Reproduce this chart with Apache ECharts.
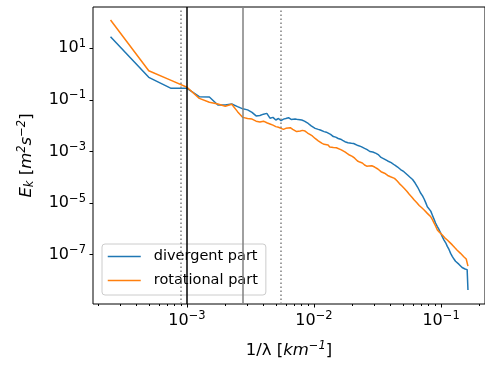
<!DOCTYPE html>
<html><head><meta charset="utf-8">
<script src="https://cdn.jsdelivr.net/npm/echarts@6/dist/echarts.min.js"></script>
<style>html,body{margin:0;padding:0;background:#fff}#c{width:485px;height:365px}</style>
</head><body><div id="c"></div>
<script>
// [1/lambda (km^-1), E_k (m^2 s^-2)]
const divergent = [
 [2.5e-4,28],[5e-4,0.75],[7.5e-4,0.28],[1e-3,0.28],[1.25e-3,0.133],[1.5e-3,0.13],[1.75e-3,0.063],[2e-3,0.063],
 [2.25e-3,0.069],[2.5e-3,0.055],[2.75e-3,0.045],[3e-3,0.041],[3.25e-3,0.033],[3.5e-3,0.024],[3.75e-3,0.025],[4e-3,0.028],
 [4.25e-3,0.030],[4.5e-3,0.0195],[4.75e-3,0.021],[5e-3,0.0166],[5.25e-3,0.019],[5.5e-3,0.0158],[5.75e-3,0.018],[6e-3,0.019],
 [6.3e-3,0.0204],[6.6e-3,0.0175],[6.8e-3,0.0195],[7.1e-3,0.0182],[7.5e-3,0.0172],[7.7e-3,0.019],[8.0e-3,0.0166],[8.4e-3,0.0150],
 [8.7e-3,0.0140],[9.0e-3,0.0122],[9.5e-3,0.0098],[1.02e-2,0.0079],[1.08e-2,0.0072],[1.12e-2,0.0068],[1.15e-2,0.0062],[1.2e-2,0.0059],
 [1.25e-2,0.0056],[1.29e-2,0.0051],[1.35e-2,0.0046],[1.42e-2,0.0038],[1.48e-2,0.0036],[1.55e-2,0.0032],[1.62e-2,0.0030],[1.68e-2,0.0027],
 [1.75e-2,0.0024],[1.85e-2,0.0022],[1.97e-2,0.0021],[2.05e-2,0.00205],[2.12e-2,0.0018],[2.22e-2,0.0017],[2.35e-2,0.00155],[2.5e-2,0.00132],
 [2.62e-2,0.00118],[2.75e-2,0.0010],[2.9e-2,9.6e-4],[3.08e-2,8.5e-4],[3.2e-2,7.6e-4],[3.37e-2,5.9e-4],[3.55e-2,5.2e-4],[3.8e-2,4.3e-4],
 [4.05e-2,3.7e-4],[4.3e-2,3.0e-4],[4.55e-2,2.5e-4],[4.8e-2,2.0e-4],[5.1e-2,1.65e-4],[5.45e-2,1.23e-4],[5.7e-2,1.0e-4],[5.97e-2,8.2e-5],
 [6.25e-2,6.0e-5],[6.53e-2,4.2e-5],[6.7e-2,3.3e-5],[6.92e-2,2.4e-5],[7.15e-2,1.9e-5],[7.36e-2,1.44e-5],[7.6e-2,1.0e-5],[7.8e-2,7.2e-6],
 [8.05e-2,6.3e-6],[8.3e-2,4.9e-6],[8.55e-2,3.4e-6],[8.8e-2,2.4e-6],[9.05e-2,1.7e-6],[9.35e-2,1.23e-6],[9.65e-2,9.3e-7],[9.93e-2,6.9e-7],
 [0.102,5.1e-7],[0.1055,3.7e-7],[0.1088,2.9e-7],[0.112,2.1e-7],[0.1155,1.6e-7],[0.119,1.13e-7],[0.1225,8.6e-8],[0.1264,6.8e-8],
 [0.130,5.6e-8],[0.134,4.7e-8],[0.138,4.3e-8],[0.1423,3.8e-8],[0.1465,3.2e-8],[0.151,2.95e-8],[0.1545,2.8e-8],[0.1578,2.7e-8],
 [0.1605,2.65e-8],[0.1626,2.6e-8],[0.1629,4.3e-9]
];
const rotational = [
 [2.5e-4,125],[5e-4,1.35],[7.5e-4,0.57],[1e-3,0.31],[1.25e-3,0.115],[1.5e-3,0.081],[1.75e-3,0.069],[2e-3,0.057],
 [2.25e-3,0.068],[2.5e-3,0.035],[2.75e-3,0.021],[3e-3,0.019],[3.25e-3,0.018],[3.5e-3,0.015],[3.75e-3,0.014],[4e-3,0.015],
 [4.25e-3,0.013],[4.5e-3,0.0117],[4.75e-3,0.0105],[5e-3,0.0092],[5.25e-3,0.0087],[5.5e-3,0.0079],[5.75e-3,0.0072],[6e-3,0.0079],
 [6.5e-3,0.0084],[6.8e-3,0.0072],[7.0e-3,0.0066],[7.3e-3,0.0059],[7.8e-3,0.0062],[8.1e-3,0.0066],[8.5e-3,0.0062],[8.9e-3,0.0052],
 [9.27e-3,0.0046],[9.7e-3,0.0040],[1.02e-2,0.0032],[1.08e-2,0.0026],[1.11e-2,0.0025],[1.15e-2,0.0021],[1.2e-2,0.0019],[1.225e-2,0.0017],
 [1.29e-2,0.0018],[1.33e-2,0.0015],[1.375e-2,0.00132],[1.42e-2,0.00142],[1.46e-2,0.00132],[1.5e-2,0.0014],[1.55e-2,0.00155],[1.64e-2,0.00115],
 [1.7e-2,0.00105],[1.75e-2,9.6e-4],[1.82e-2,8.4e-4],[1.9e-2,7.3e-4],[2.0e-2,6.5e-4],[2.09e-2,5.5e-4],[2.2e-2,4.3e-4],[2.29e-2,3.9e-4],
 [2.4e-2,3.6e-4],[2.5e-2,3.0e-4],[2.6e-2,2.7e-4],[2.7e-2,2.75e-4],[2.85e-2,2.8e-4],[3.0e-2,2.5e-4],[3.1e-2,2.25e-4],[3.18e-2,2.1e-4],
 [3.28e-2,1.85e-4],[3.37e-2,1.65e-4],[3.48e-2,1.5e-4],[3.59e-2,1.44e-4],[3.7e-2,1.3e-4],[3.8e-2,1.18e-4],[4.0e-2,1.05e-4],[4.3e-2,9.1e-5],
 [4.5e-2,7.3e-5],[4.7e-2,5.7e-5],[4.92e-2,4.6e-5],[5.14e-2,3.7e-5],[5.38e-2,2.9e-5],[5.62e-2,2.2e-5],[5.9e-2,1.7e-5],[6.15e-2,1.32e-5],
 [6.45e-2,1.03e-5],[6.73e-2,8.1e-6],[7.05e-2,6.6e-6],[7.36e-2,5.4e-6],[7.6e-2,4.6e-6],[7.8e-2,4.0e-6],[8.05e-2,3.5e-6],[8.3e-2,2.95e-6],
 [8.55e-2,2.3e-6],[8.8e-2,1.7e-6],[9.05e-2,1.3e-6],[9.35e-2,9.1e-7],[9.7e-2,7.5e-7],[0.1023,5.8e-7],[0.107,4.5e-7],[0.112,3.7e-7],
 [0.117,3.0e-7],[0.1226,2.4e-7],[0.128,1.9e-7],[0.134,1.5e-7],[0.138,1.3e-7],[0.1423,1.13e-7],[0.146,9.5e-8],[0.151,8.3e-8],
 [0.1545,7.5e-8],[0.1578,6.8e-8],[0.16,6.6e-8],[0.1626,6.3e-8],[0.1629,3.6e-8]
];
const seriesNames = ['divergent part','rotational part'];
const xTickExp = [-3,-2,-1];
const yTickExp = [-7,-5,-3,-1,1];
const refLines = [8.87e-4, 1e-3, 2.75e-3, 5.55e-3];

const L = Math.log10;
const xMin = -3.74, xMax = -0.654, yMin = -8.91, yMax = 2.6;
const minor = [];
for (let e = -4; e <= -1; e++) for (let m = 2; m <= 9; m++) { const v = L(m) + e; if (v > xMin && v < xMax) minor.push(v); }
const fmt = v => '{b|10}{s|' + (v < 0 ? '\u2212' : '') + Math.abs(Math.round(v)) + '}';
const ff = 'DejaVu Sans';
const rich = { b: {fontSize: 16, color: '#000', fontFamily: ff}, s: {fontSize: 11.5, color: '#000', fontFamily: ff, padding: [0,0,9,0]} };
const gridBox = {left: 93, top: 7, right: -3, bottom: 61};

const chart = echarts.init(document.getElementById('c'), null, {renderer: 'canvas'});
chart.setOption({
  animation: false,
  backgroundColor: '#fff',
  grid: [
    Object.assign({show: true, borderColor: '#000', borderWidth: 1, containLabel: false}, gridBox),
    Object.assign({show: false, containLabel: false}, gridBox)
  ],
  xAxis: [{
    gridIndex: 0, type: 'value', min: xMin, max: xMax, position: 'bottom',
    axisLine: {show: false, onZero: false}, splitLine: {show: false},
    axisTick: {show: true, customValues: xTickExp, length: 3.5, lineStyle: {color: '#000', width: 1}},
    axisLabel: {customValues: xTickExp, formatter: fmt, rich: rich, margin: 6},
    name: '{n|1/λ [}{i|km}{s|\u22121}{n|]}', nameLocation: 'middle', nameGap: 36,
    nameTextStyle: {rich: {n: {fontSize: 16.5, fontFamily: ff, color: '#000'}, i: {fontSize: 16.5, fontFamily: ff, fontStyle: 'italic', color: '#000'}, s: {fontSize: 11.5, fontFamily: ff, fontStyle: 'italic', color: '#000', padding: [0,0,9,0]}}}
  }, {
    gridIndex: 1, type: 'value', min: xMin, max: xMax, position: 'bottom',
    axisLine: {show: false, onZero: false}, splitLine: {show: false}, axisLabel: {show: false},
    axisTick: {show: true, customValues: minor, length: 2, lineStyle: {color: '#000', width: 1}}
  }],
  yAxis: [{
    gridIndex: 0, type: 'value', min: yMin, max: yMax,
    axisLine: {show: false, onZero: false}, splitLine: {show: false},
    axisTick: {show: true, customValues: yTickExp, length: 3.5, lineStyle: {color: '#000', width: 1}},
    axisLabel: {customValues: yTickExp, formatter: fmt, rich: rich, margin: 7},
    name: '{i|E}{k|k}{n| [}{i|m}{s|2}{i|s}{s|\u22122}{n|]}', nameLocation: 'middle', nameRotate: 90, nameGap: 56,
    nameTextStyle: {padding: [0, 0, 0, 0], rich: {n: {fontSize: 16.5, fontFamily: ff, color: '#000'}, i: {fontSize: 16.5, fontFamily: ff, fontStyle: 'italic', color: '#000'}, k: {fontSize: 11.5, fontFamily: ff, fontStyle: 'italic', color: '#000', padding: [7,0,0,0]}, s: {fontSize: 11.5, fontFamily: ff, fontStyle: 'italic', color: '#000', padding: [0,0,9,0]}}}
  }, {
    gridIndex: 1, type: 'value', min: yMin, max: yMax, show: false
  }],
  legend: {
    orient: 'vertical', left: 102, top: 244,
    data: seriesNames,
    itemWidth: 33, itemHeight: 14, itemGap: 9,
    padding: [5, 8, 7, 5],
    itemStyle: {opacity: 0},
    lineStyle: {width: 1.5},
    borderColor: '#cccccc', borderWidth: 1, borderRadius: 3, backgroundColor: 'rgba(255,255,255,0.8)',
    textStyle: {fontSize: 14.5, fontFamily: ff, color: '#000', padding: [0,0,0,8]}
  },
  series: [{
    name: seriesNames[0], type: 'line', symbol: 'none', z: 3,
    lineStyle: {color: '#1f77b4', width: 1.5}, itemStyle: {color: '#1f77b4'},
    data: divergent.map(p => [L(p[0]), L(p[1])]),
    markLine: {
      silent: true, symbol: 'none', label: {show: false},
      data: refLines.map((k, i) => ({xAxis: L(k), lineStyle: [
        {color: '#808080', width: 1.5, type: [1.5, 2.5]},
        {color: '#000', width: 1.5, type: 'solid'},
        {color: '#808080', width: 1.5, type: 'solid'},
        {color: '#808080', width: 1.5, type: [1.5, 2.5]}][i]}))
    }
  }, {
    name: seriesNames[1], type: 'line', symbol: 'none', z: 3,
    lineStyle: {color: '#ff7f0e', width: 1.5}, itemStyle: {color: '#ff7f0e'},
    data: rotational.map(p => [L(p[0]), L(p[1])])
  }]
});
</script></body></html>
